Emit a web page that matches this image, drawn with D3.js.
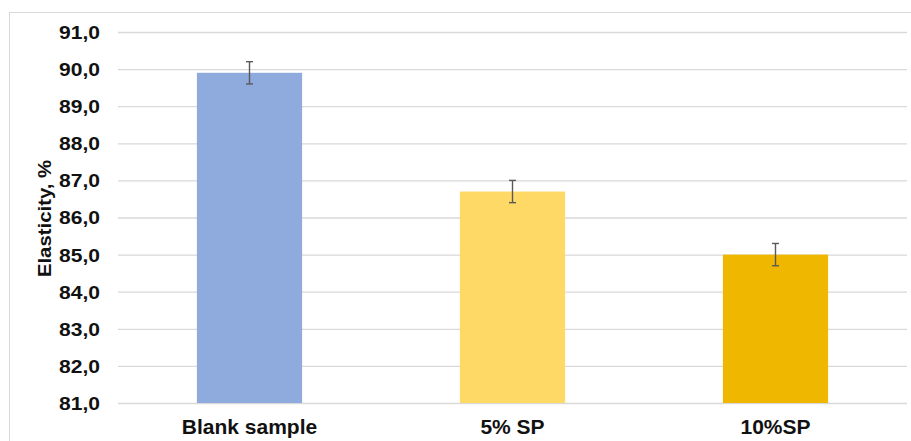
<!DOCTYPE html>
<html><head><meta charset="utf-8">
<script src="https://cdn.jsdelivr.net/npm/d3@7"></script>
<style>body{margin:0;background:#fff;}svg{display:block;font-family:"Liberation Sans",Arial,sans-serif;}</style>
</head><body>
<svg id="c" width="911" height="441"></svg>
<script>
const categories = ["Blank sample", "5% SP", "10%SP"];
const values = [89.9, 86.7, 85.0];
const errors = [0.3, 0.3, 0.3];
const colors = ["#8FAADC", "#FFD966", "#F0B700"];
const yTicks = [81, 82, 83, 84, 85, 86, 87, 88, 89, 90, 91];
const yTitle = "Elasticity, %";

const svg = d3.select("#c");
const m = {left: 118, right: 4, top: 32, bottom: 38};
const W = 911, H = 441;

svg.append("rect").attr("x", 9.5).attr("y", 12.5).attr("width", 920).attr("height", 460)
  .attr("fill", "none").attr("stroke", "#d9d9d9").attr("stroke-width", 1);

const x = d3.scaleBand().domain(categories).range([m.left, W - m.right]).paddingInner(0.6).paddingOuter(0.3);
const y = d3.scaleLinear().domain([81, 91]).range([H - m.bottom, m.top]);

// gridlines
const yAxis = d3.axisLeft(y).tickValues(yTicks).tickSize(-(W - m.right - m.left)).tickFormat(d => d3.format(".1f")(d).replace(".", ","));
const gy = svg.append("g").attr("transform", `translate(${m.left},0)`).call(yAxis);
gy.select(".domain").remove();
gy.selectAll(".tick line").attr("stroke", "#d9d9d9").attr("stroke-width", 1.3);
gy.selectAll(".tick text").attr("x", 0).attr("dy", "0.36em")
  .attr("font-size", 18).attr("font-weight", "bold").attr("fill", "#111")
  .attr("text-anchor", "end")
  .attr("transform", "translate(-18,0) scale(1.17,1)");

// bars
svg.append("g").selectAll("rect").data(categories).join("rect")
  .attr("x", d => x(d)).attr("width", x.bandwidth())
  .attr("y", (d, i) => y(values[i])).attr("height", (d, i) => y(81) - y(values[i]))
  .attr("fill", (d, i) => colors[i]);

// error bars
const eg = svg.append("g").attr("stroke", "#595959").attr("stroke-width", 1.4);
categories.forEach((c, i) => {
  const cx = x(c) + x.bandwidth() / 2;
  const y1 = y(values[i] + errors[i]), y2 = y(values[i] - errors[i]);
  eg.append("line").attr("x1", cx).attr("x2", cx).attr("y1", y1).attr("y2", y2);
  eg.append("line").attr("x1", cx - 3.5).attr("x2", cx + 3.5).attr("y1", y1).attr("y2", y1);
  eg.append("line").attr("x1", cx - 3.5).attr("x2", cx + 3.5).attr("y1", y2).attr("y2", y2);
});

// x axis labels
const xAxis = d3.axisBottom(x).tickSize(0);
const gx = svg.append("g").attr("transform", `translate(0,${y(81)})`).call(xAxis);
gx.select(".domain").remove();
gx.selectAll(".tick text").attr("y", 31).attr("dy", 0)
  .attr("font-size", 21).attr("font-weight", "bold").attr("fill", "#111");

// y title
svg.append("text").attr("transform", "translate(51,218.5) rotate(-90) scale(1.1,1)")
  .attr("text-anchor", "middle").attr("font-size", 18.5).attr("font-weight", "bold").attr("fill", "#111")
  .text(yTitle);
</script>
</body></html>
